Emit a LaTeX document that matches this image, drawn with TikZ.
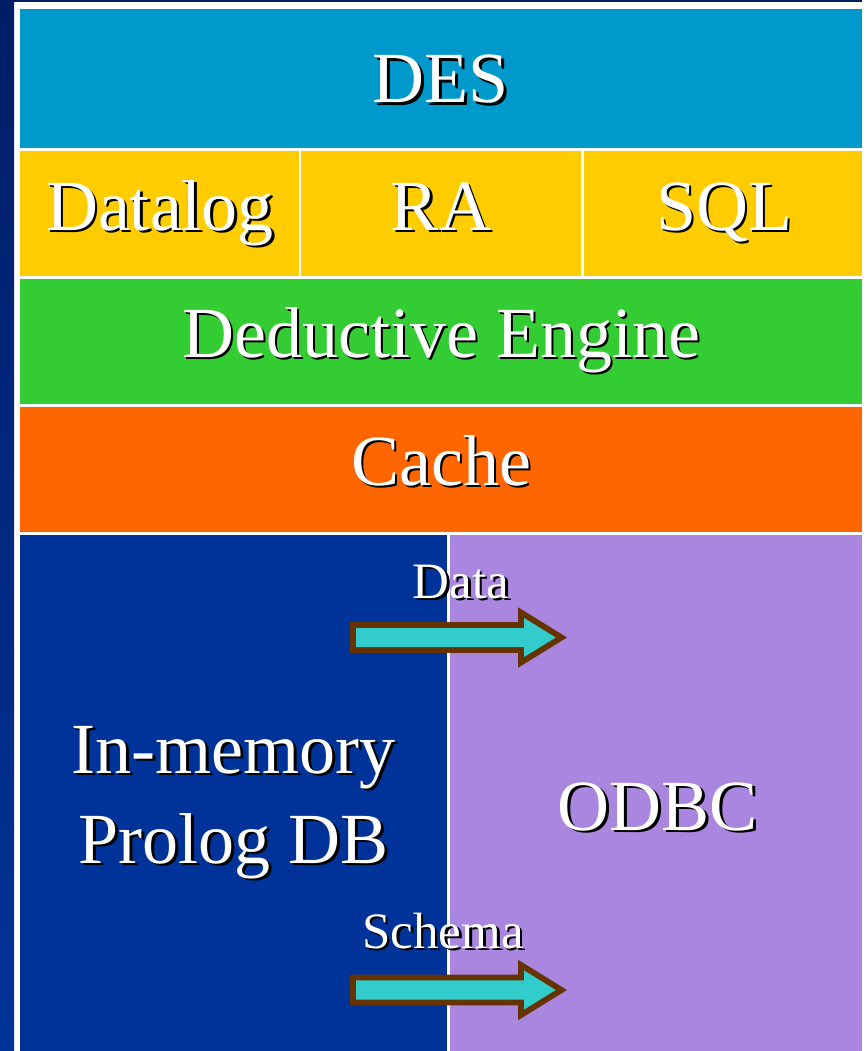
\documentclass[tikz,border=0pt]{standalone}
\usepackage{fontspec}
\setmainfont{Liberation Serif}
\definecolor{desblue}{HTML}{0099CC}
\definecolor{layyellow}{HTML}{FFCC00}
\definecolor{laygreen}{HTML}{33CC33}
\definecolor{layorange}{HTML}{FF6600}
\definecolor{laynavy}{HTML}{003399}
\definecolor{laypurple}{HTML}{A987E0}
\definecolor{stripdark}{HTML}{001E66}
\definecolor{arrowfill}{HTML}{33CCCC}
\definecolor{arrowedge}{HTML}{663300}
\newcommand{\shd}[1]{\leavevmode\rlap{\kern2.6pt\raisebox{-2.6pt}{\color{black}#1}}{\color{white}#1}}
\begin{document}
\begin{tikzpicture}[x=1pt,y=-1pt,
  layer/.style={draw=none,inner sep=0pt,outer sep=0pt,anchor=north west},
  bigtxt/.style={inner sep=0pt,anchor=base,font=\fontsize{72}{84}\selectfont},
  smalltxt/.style={inner sep=0pt,anchor=base,font=\fontsize{51}{60}\selectfont},
  blockarrow/.style={fill=arrowfill,draw=arrowedge,line width=5.8pt,line join=miter}]
\useasboundingbox (0,0) rectangle (865,1051);
\fill[white] (0,0) rectangle (865,1051);
\shade[top color=stripdark,bottom color=laynavy] (0,0) rectangle (14,1051);
\fill[stripdark] (14,0) rectangle (862,2.5);
% layers
\node[layer,fill=desblue,minimum width=842pt,minimum height=139pt] (des) at (20,9) {};
\node[layer,fill=layyellow,minimum width=279pt,minimum height=125pt] (datalog) at (20,151) {};
\node[layer,fill=layyellow,minimum width=280pt,minimum height=125pt] (ra) at (301,151) {};
\node[layer,fill=layyellow,minimum width=278pt,minimum height=125pt] (sql) at (584,151) {};
\node[layer,fill=laygreen,minimum width=842pt,minimum height=125pt] (engine) at (20,279) {};
\node[layer,fill=layorange,minimum width=842pt,minimum height=125pt] (cache) at (20,407) {};
\node[layer,fill=laynavy,minimum width=427pt,minimum height=516pt] (prologdb) at (20,535) {};
\node[layer,fill=laypurple,minimum width=412pt,minimum height=516pt] (odbc) at (450,535) {};
% labels
\node[bigtxt] (desl) at (441,103) {\shd{DES}};
\node[bigtxt] (datalogl) at (160,230) {\shd{Datalog}};
\node[bigtxt] (ral) at (441,230) {\shd{RA}};
\node[bigtxt] (sqll) at (724,230) {\shd{SQL}};
\node[bigtxt] (enginel) at (441,357) {\shd{Deductive Engine}};
\node[bigtxt] (cachel) at (441,485) {\shd{Cache}};
\node[bigtxt] (prolog1) at (233.5,773) {\shd{In-memory}};
\node[bigtxt] (prolog2) at (233.5,863) {\shd{Prolog DB}};
\node[bigtxt] (odbcl) at (658,830) {\shd{ODBC}};
\node[smalltxt] (datal) at (461,598) {\shd{Data}};
\node[smalltxt] (schemal) at (443,948) {\shd{Schema}};
% block arrows
\draw[blockarrow] (353,625) -- (521,625) -- (521,612.5) -- (561.5,637.5) -- (521,662.5) -- (521,650) -- (353,650) -- cycle;
\draw[blockarrow] (353,977.5) -- (521,977.5) -- (521,965) -- (561.5,990) -- (521,1015) -- (521,1002.5) -- (353,1002.5) -- cycle;
\end{tikzpicture}
\end{document}
